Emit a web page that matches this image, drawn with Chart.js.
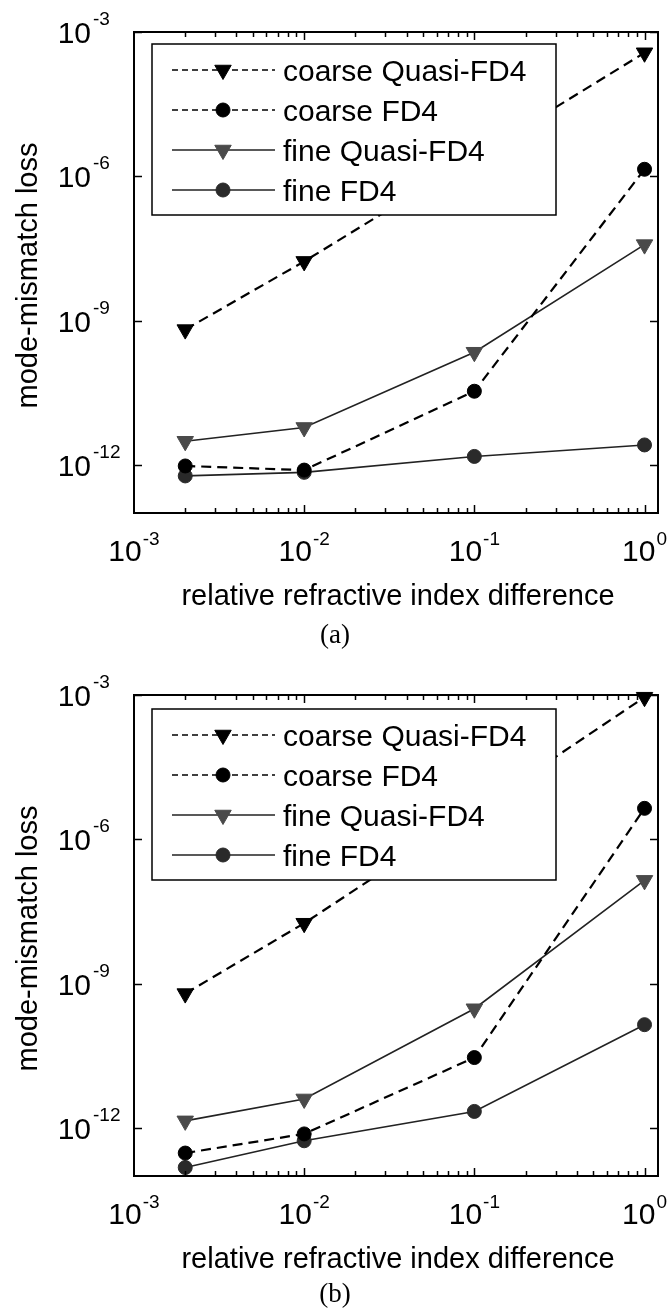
<!DOCTYPE html>
<html><head><meta charset="utf-8">
<script src="https://cdn.jsdelivr.net/npm/chart.js@4.4.1/dist/chart.umd.min.js"></script>
<style>
html,body{margin:0;padding:0;background:#fff;}
canvas{display:block;}
</style></head>
<body>
<canvas id="ca" width="670" height="663"></canvas>
<canvas id="cb" width="670" height="649"></canvas>
<script>
// ---- data ----
const xValues = [0.002, 0.01, 0.1, 1];
const seriesLabels = ['coarse Quasi-FD4', 'coarse FD4', 'fine Quasi-FD4', 'fine FD4'];

const aCoarseQuasi = [6.5e-10, 1.7e-8, 2.5e-6, 3.7e-4];
const aCoarseFD4   = [9.5e-13, 7.8e-13, 3.4e-11, 1.4e-6];
const aFineQuasi   = [3.1e-12, 6.0e-12, 2.2e-10, 3.8e-8];
const aFineFD4     = [5.9e-13, 7.0e-13, 1.5e-12, 2.6e-12];

const bCoarseQuasi = [6.2e-10, 1.8e-8, 3.8e-6, 9.0e-4];
const bCoarseFD4   = [3.0e-13, 7.5e-13, 2.9e-11, 4.4e-6];
const bFineQuasi   = [1.4e-12, 4.0e-12, 3.0e-10, 1.4e-7];
const bFineFD4     = [1.5e-13, 5.4e-13, 2.2e-12, 1.4e-10];

const xTickExponents = [-3, -2, -1, 0];
const yTickExponents = [-3, -6, -9, -12];
const xAxisTitle = 'relative refractive index difference';
const yAxisTitle = 'mode-mismatch loss';
const panelLabels = ['(a)', '(b)'];

// ---- styles ----
const SANS = '"Liberation Sans", Arial, sans-serif';
const SERIF = '"Liberation Serif", "Times New Roman", serif';
const seriesStyles = [
  {dash: [10, 6], color: '#000', width: 2.2, style: 'triangle', rot: 180, r: 9.5, fill: '#000'},
  {dash: [10, 6], color: '#000', width: 2.2, style: 'circle',   rot: 0,   r: 7,   fill: '#000'},
  {dash: [],      color: '#222', width: 1.6, style: 'triangle', rot: 180, r: 9.5, fill: '#4a4a4a'},
  {dash: [],      color: '#222', width: 1.6, style: 'circle',   rot: 0,   r: 7,   fill: '#2a2a2a'}
];

function makeDatasets(series) {
  return series.map((vals, i) => {
    const s = seriesStyles[i];
    return {
      label: seriesLabels[i],
      data: xValues.map((x, j) => ({x: x, y: vals[j]})),
      borderColor: s.color, borderWidth: s.width, borderDash: s.dash,
      pointStyle: s.style, pointRotation: s.rot, pointRadius: s.r, pointHoverRadius: s.r,
      pointBackgroundColor: s.fill, pointBorderColor: s.fill, pointBorderWidth: 1,
      fill: false, tension: 0, clip: false
    };
  });
}

function drawMarker(ctx, style, r, rot, x, y, fill) {
  ctx.save();
  ctx.fillStyle = fill; ctx.strokeStyle = fill; ctx.lineWidth = 1; ctx.setLineDash([]);
  ctx.beginPath();
  if (style === 'circle') {
    ctx.arc(x, y, r, 0, Math.PI * 2);
  } else {
    let a = rot * Math.PI / 180;
    ctx.moveTo(x + Math.sin(a) * r, y - Math.cos(a) * r);
    a += 2 * Math.PI / 3;
    ctx.lineTo(x + Math.sin(a) * r, y - Math.cos(a) * r);
    a += 2 * Math.PI / 3;
    ctx.lineTo(x + Math.sin(a) * r, y - Math.cos(a) * r);
    ctx.closePath();
  }
  ctx.fill(); ctx.stroke();
  ctx.restore();
}

const decorPlugin = {
  id: 'decor',
  afterDraw(chart, args, opts) {
    const ctx = chart.ctx;
    const xs = chart.scales.x, ys = chart.scales.y;
    const {left, right, top, bottom} = chart.chartArea;
    ctx.save();
    ctx.setLineDash([]);
    ctx.strokeStyle = '#000';
    const seg = (x1, y1, x2, y2) => { ctx.beginPath(); ctx.moveTo(x1, y1); ctx.lineTo(x2, y2); ctx.stroke(); };

    // ticks on x (bottom + top), log minor ticks
    ctx.lineWidth = 1.5;
    for (let e = xTickExponents[0]; e <= xTickExponents[xTickExponents.length - 1]; e++) {
      for (let m = 1; m <= 9; m++) {
        const v = m * Math.pow(10, e);
        if (v > xs.max * 1.0001) break;
        if (m === 1 && e === xTickExponents[0]) continue;
        const px = Math.round(xs.getPixelForValue(v)) + 0.5;
        const len = m === 1 ? 8 : 5;
        seg(px, bottom, px, bottom - len);
        seg(px, top, px, top + len);
      }
    }
    // ticks on y (left + right)
    yTickExponents.forEach(e => {
      const py = Math.round(ys.getPixelForValue(Math.pow(10, e))) + 0.5;
      seg(left, py, left + 8, py);
      seg(right, py, right - 8, py);
    });

    // frame
    ctx.lineWidth = 2;
    ctx.strokeRect(left, top, right - left, bottom - top);

    // tick labels
    ctx.fillStyle = '#000';
    ctx.textBaseline = 'alphabetic';
    const baseFont = '30px ' + SANS, supFont = '19px ' + SANS;
    xTickExponents.forEach(e => {
      const px = xs.getPixelForValue(Math.pow(10, e));
      const sup = String(e);
      ctx.font = baseFont; const wb = ctx.measureText('10').width;
      ctx.font = supFont; const ws = ctx.measureText(sup).width;
      const x0 = px - (wb + 1 + ws) / 2;
      ctx.textAlign = 'left';
      ctx.font = baseFont; ctx.fillText('10', x0, bottom + 48);
      ctx.font = supFont; ctx.fillText(sup, x0 + wb + 1, bottom + 32);
    });
    yTickExponents.forEach(e => {
      const py = ys.getPixelForValue(Math.pow(10, e));
      const sup = String(e);
      const xr = left - 43;
      ctx.textAlign = 'right';
      ctx.font = baseFont; ctx.fillText('10', xr, py + 11);
      ctx.textAlign = 'left';
      ctx.font = supFont; ctx.fillText(sup, xr + 2, py - 7);
    });

    // axis titles
    ctx.font = '29px ' + SANS;
    ctx.textAlign = 'center';
    ctx.fillText(xAxisTitle, (left + right) / 2 + 2, bottom + 92);
    ctx.save();
    ctx.translate(37, (top + bottom) / 2 + 3);
    ctx.rotate(-Math.PI / 2);
    ctx.fillText(yAxisTitle, 0, 0);
    ctx.restore();

    // panel label
    ctx.font = '27px ' + SERIF;
    ctx.textAlign = 'center';
    ctx.fillText(opts.label, 335, opts.labelY);

    // legend
    const lg = opts.legend;
    ctx.fillStyle = '#fff';
    ctx.fillRect(lg.x, lg.y, lg.w, lg.h);
    ctx.lineWidth = 1.5; ctx.strokeStyle = '#000';
    ctx.strokeRect(lg.x, lg.y, lg.w, lg.h);
    chart.data.datasets.forEach((ds, i) => {
      const s = seriesStyles[i];
      const ry = lg.y + 26 + i * 40;
      ctx.save();
      ctx.strokeStyle = ds.borderColor;
      ctx.lineWidth = 1.5;
      ctx.setLineDash(s.dash.length ? [6, 4] : []);
      seg(lg.x + 20, ry, lg.x + 123, ry);
      ctx.restore();
      drawMarker(ctx, ds.pointStyle, ds.pointRadius, ds.pointRotation, lg.x + 71, ry, ds.pointBackgroundColor);
      ctx.fillStyle = '#000';
      ctx.font = '30px ' + SANS;
      ctx.textAlign = 'left';
      ctx.fillText(ds.label, lg.x + 131, ry + 11);
    });
    ctx.restore();
  }
};

function makeChart(id, series, H, label, labelY, legendTop) {
  return new Chart(document.getElementById(id), {
    type: 'line',
    data: {datasets: makeDatasets(series)},
    plugins: [decorPlugin],
    options: {
      responsive: false, animation: false, devicePixelRatio: 1, events: [],
      layout: {autoPadding: false, padding: {left: 134, right: 12, top: 32, bottom: H - 513}},
      plugins: {
        legend: {display: false}, tooltip: {enabled: false},
        decor: {label: label, labelY: labelY, legend: {x: 152, y: legendTop, w: 404, h: 171}}
      },
      scales: {
        x: {type: 'logarithmic', min: 1e-3, max: 1.2,
            grid: {display: false, drawTicks: false}, border: {display: false}, ticks: {display: false}},
        y: {type: 'logarithmic', min: 1e-13, max: 1e-3,
            grid: {display: false, drawTicks: false}, border: {display: false}, ticks: {display: false}}
      }
    }
  });
}

makeChart('ca', [aCoarseQuasi, aCoarseFD4, aFineQuasi, aFineFD4], 663, panelLabels[0], 643, 44);
makeChart('cb', [bCoarseQuasi, bCoarseFD4, bFineQuasi, bFineFD4], 649, panelLabels[1], 639, 46);
</script>
</body></html>
